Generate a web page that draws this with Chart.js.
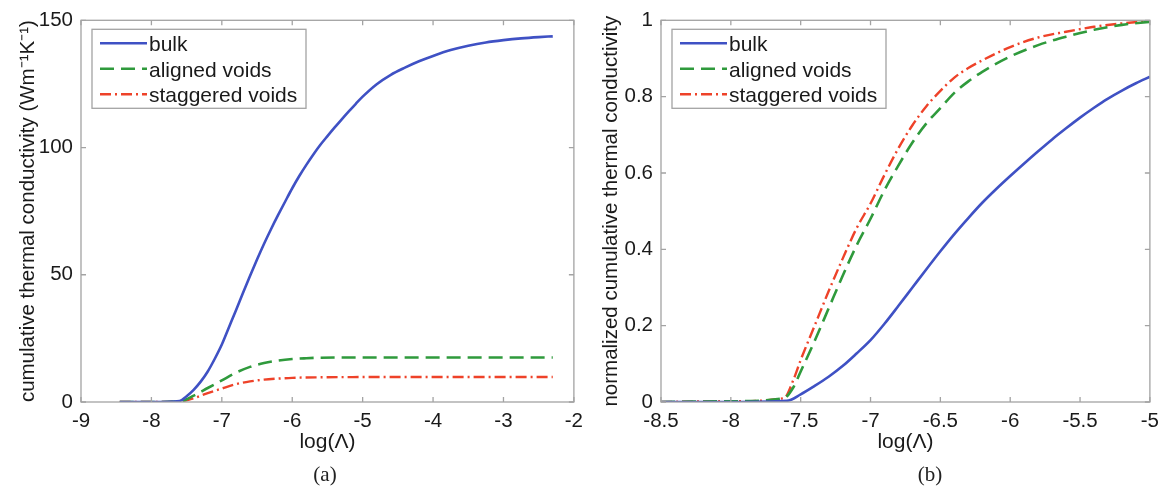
<!DOCTYPE html>
<html>
<head>
<meta charset="utf-8">
<script src="https://cdn.jsdelivr.net/npm/chart.js@4/dist/chart.umd.min.js"></script>
<style>
  html, body { margin: 0; padding: 0; background: #fff; }
  body { width: 1166px; height: 489px; position: relative; overflow: hidden; }
  .wrap { position: absolute; top: 0; height: 489px; }
  .cap { position: absolute; top: 462px; font-family: "Liberation Serif", "DejaVu Serif", serif; font-size: 21px; color: #222; transform: translateX(-50%); }
</style>
</head>
<body>
<div class="wrap" id="wa" style="left:0px;width:590px;"><canvas id="ca"></canvas></div>
<div class="wrap" id="wb" style="left:583px;width:583px;"><canvas id="cb"></canvas></div>
<div class="cap" style="left:325px;">(a)</div>
<div class="cap" style="left:930px;">(b)</div>
<script>
// ---------- DATA ----------
const seriesNames = ['bulk', 'aligned voids', 'staggered voids'];

// Panel (a): cumulative thermal conductivity (Wm^-1K^-1) vs log(Λ)
const aBulkX = [-8.45, -8.0, -7.6, -7.5, -7.4, -7.3, -7.2, -7.1, -7.0, -6.9, -6.8, -6.7, -6.6, -6.5, -6.4, -6.3, -6.2, -6.1, -6.0, -5.9, -5.8, -5.7, -5.6, -5.5, -5.4, -5.3, -5.2, -5.1, -5.0, -4.8, -4.6, -4.4, -4.2, -4.0, -3.75, -3.5, -3.25, -3.0, -2.75, -2.5, -2.3];
const aBulkY = [0, 0, 0.4, 2.3, 4.8, 8.0, 12.0, 17.0, 22.6, 29.3, 36.0, 42.8, 49.5, 56.0, 62.2, 68.0, 73.5, 78.8, 84.0, 88.8, 93.2, 97.3, 101.1, 104.5, 107.8, 111.0, 114.1, 117.1, 120.0, 124.9, 128.6, 131.4, 133.9, 136.0, 138.3, 140.0, 141.3, 142.2, 142.9, 143.4, 143.7];
const aAlignX = [-8.45, -8.0, -7.6, -7.4, -7.2, -7.0, -6.8, -6.6, -6.4, -6.2, -6.0, -5.8, -5.6, -5.0, -4.0, -2.3];
const aAlignY = [0, 0, 0.2, 2.5, 5.5, 8.5, 11.5, 13.8, 15.3, 16.3, 16.9, 17.2, 17.4, 17.5, 17.5, 17.5];
const aStagX = [-8.45, -8.0, -7.6, -7.4, -7.2, -7.0, -6.8, -6.6, -6.4, -6.2, -6.0, -5.6, -5.0, -4.0, -2.3];
const aStagY = [0, 0, 0.2, 1.5, 3.5, 5.3, 7.0, 8.1, 8.8, 9.2, 9.5, 9.7, 9.8, 9.8, 9.8];

// Panel (b): normalized cumulative thermal conductivity vs log(Λ)
const bBulkX = [-8.5, -8.0, -7.6, -7.5, -7.4, -7.3, -7.2, -7.1, -7.0, -6.9, -6.8, -6.7, -6.6, -6.5, -6.4, -6.3, -6.2, -6.1, -6.0, -5.9, -5.8, -5.7, -5.6, -5.5, -5.4, -5.3, -5.2, -5.1, -5.0];
const bBulkY = [0, 0, 0.003, 0.02, 0.042, 0.066, 0.094, 0.127, 0.162, 0.205, 0.252, 0.3, 0.348, 0.395, 0.44, 0.482, 0.522, 0.558, 0.592, 0.625, 0.657, 0.688, 0.717, 0.745, 0.771, 0.795, 0.816, 0.835, 0.852];
const bAlignX = [-8.5, -8.0, -7.62, -7.55, -7.5, -7.4, -7.3, -7.2, -7.1, -7.0, -6.9, -6.8, -6.7, -6.6, -6.5, -6.4, -6.3, -6.2, -6.0, -5.8, -5.6, -5.4, -5.2, -5.0];
const bAlignY = [0, 0.002, 0.01, 0.04, 0.08, 0.16, 0.245, 0.33, 0.41, 0.48, 0.555, 0.62, 0.68, 0.73, 0.77, 0.81, 0.84, 0.865, 0.905, 0.935, 0.957, 0.975, 0.988, 0.996];
const bStagX = [-8.5, -8.0, -7.62, -7.55, -7.5, -7.4, -7.3, -7.2, -7.1, -7.0, -6.9, -6.8, -6.7, -6.6, -6.5, -6.4, -6.3, -6.2, -6.0, -5.8, -5.6, -5.4, -5.2, -5.0];
const bStagY = [0, 0.002, 0.01, 0.06, 0.11, 0.2, 0.29, 0.375, 0.455, 0.52, 0.595, 0.665, 0.725, 0.775, 0.815, 0.85, 0.875, 0.895, 0.93, 0.955, 0.97, 0.983, 0.992, 0.998];

const aXTicks = [-9, -8, -7, -6, -5, -4, -3, -2];
const aYTicks = [0, 50, 100, 150];
const bXTicks = [-8.5, -8, -7.5, -7, -6.5, -6, -5.5, -5];
const bYTicks = [0, 0.2, 0.4, 0.6, 0.8, 1];

// ---------- STYLE ----------
const FONT = '"Liberation Sans", Arial, sans-serif';
const TXT = '#1a1a1a';
const BOX = '#a3a3a3';
const styles = [
  { color: '#3f51c4', dash: [], width: 2.6 },
  { color: '#2f9a3c', dash: [14, 7], width: 2.6 },
  { color: '#ee4229', dash: [11, 4, 2, 4], width: 2.4 }
];

function pts(xs, ys) { return xs.map((x, i) => ({ x: x, y: ys[i] })); }

const boxPlugin = {
  id: 'matlabBox',
  afterDatasetsDraw(chart) {
    const { ctx, chartArea: a, scales } = chart;
    ctx.save();
    ctx.strokeStyle = BOX;
    ctx.lineWidth = 1.3;
    ctx.setLineDash([]);
    ctx.strokeRect(a.left, a.top, a.right - a.left, a.bottom - a.top);
    const tl = 5;
    ctx.beginPath();
    scales.x.ticks.forEach(t => {
      const px = scales.x.getPixelForValue(t.value);
      ctx.moveTo(px, a.bottom); ctx.lineTo(px, a.bottom - tl);
      ctx.moveTo(px, a.top); ctx.lineTo(px, a.top + tl);
    });
    scales.y.ticks.forEach(t => {
      const py = scales.y.getPixelForValue(t.value);
      ctx.moveTo(a.left, py); ctx.lineTo(a.left + tl, py);
      ctx.moveTo(a.right, py); ctx.lineTo(a.right - tl, py);
    });
    ctx.stroke();
    ctx.restore();
  }
};

const legendPlugin = {
  id: 'matlabLegend',
  afterDraw(chart) {
    const { ctx, chartArea: a } = chart;
    const x0 = a.left + 11, y0 = a.top + 9, w = 214, h = 79;
    ctx.save();
    ctx.fillStyle = '#fff';
    ctx.fillRect(x0, y0, w, h);
    ctx.strokeStyle = BOX;
    ctx.lineWidth = 1.3;
    ctx.setLineDash([]);
    ctx.strokeRect(x0, y0, w, h);
    chart.data.datasets.forEach((ds, i) => {
      const cy = y0 + 14 + i * 25.5;
      ctx.strokeStyle = ds.borderColor;
      ctx.lineWidth = ds.borderWidth;
      ctx.setLineDash(ds.borderDash || []);
      ctx.beginPath();
      ctx.moveTo(x0 + 8, cy);
      ctx.lineTo(x0 + 55, cy);
      ctx.stroke();
      ctx.setLineDash([]);
      ctx.fillStyle = TXT;
      ctx.font = '21px ' + FONT;
      ctx.textBaseline = 'middle';
      ctx.textAlign = 'left';
      ctx.fillText(ds.label, x0 + 57, cy + 2);
    });
    ctx.restore();
  }
};

function makeChart(id, cfg) {
  const datasets = cfg.series.map((s, i) => ({
    label: seriesNames[i],
    data: pts(s[0], s[1]),
    borderColor: styles[i].color,
    borderDash: styles[i].dash,
    borderWidth: styles[i].width,
    pointRadius: 0,
    fill: false,
    cubicInterpolationMode: 'monotone'
  }));
  return new Chart(document.getElementById(id), {
    type: 'line',
    data: { datasets },
    plugins: [boxPlugin, legendPlugin],
    options: {
      responsive: true,
      maintainAspectRatio: false,
      animation: false,
      devicePixelRatio: 1,
      layout: { padding: { left: cfg.padLeft, right: cfg.padRight, top: 12, bottom: 30 } },
      plugins: { legend: { display: false }, tooltip: { enabled: false } },
      scales: {
        x: {
          type: 'linear', min: cfg.xTicks[0], max: cfg.xTicks[cfg.xTicks.length - 1],
          afterBuildTicks: s => { s.ticks = cfg.xTicks.map(v => ({ value: v })); },
          afterFit: s => { s.height = 57; },
          grid: { display: false, drawTicks: false },
          border: { display: false },
          ticks: { autoSkip: false, maxRotation: 0, padding: 7, color: TXT, font: { family: FONT, size: 20.5 }, callback: v => String(v) },
          title: { display: true, text: 'log(Λ)', color: TXT, font: { family: FONT, size: 21 }, padding: { top: 0, bottom: 4 } }
        },
        y: {
          type: 'linear', min: cfg.yTicks[0], max: cfg.yTicks[cfg.yTicks.length - 1],
          afterBuildTicks: s => { s.ticks = cfg.yTicks.map(v => ({ value: v })); },
          afterFit: s => { s.width = cfg.yWidth; },
          grid: { display: false, drawTicks: false },
          border: { display: false },
          ticks: { autoSkip: false, padding: 8, color: TXT, font: { family: FONT, size: 20.5 }, callback: v => String(v) },
          title: { display: true, text: cfg.yTitle, color: TXT, font: { family: FONT, size: 20.5 }, padding: { top: 0, bottom: 0 } }
        }
      }
    }
  });
}

makeChart('ca', {
  series: [[aBulkX, aBulkY], [aAlignX, aAlignY], [aStagX, aStagY]],
  xTicks: aXTicks, yTicks: aYTicks,
  padLeft: 16, padRight: 14, yWidth: 65,
  yTitle: 'cumulative thermal conductivity (Wm⁻¹K⁻¹)'
});
makeChart('cb', {
  series: [[bBulkX, bBulkY], [bAlignX, bAlignY], [bStagX, bStagY]],
  xTicks: bXTicks, yTicks: bYTicks,
  padLeft: 16, padRight: 12, yWidth: 62,
  yTitle: 'normalized cumulative thermal conductivity'
});
</script>
</body>
</html>
